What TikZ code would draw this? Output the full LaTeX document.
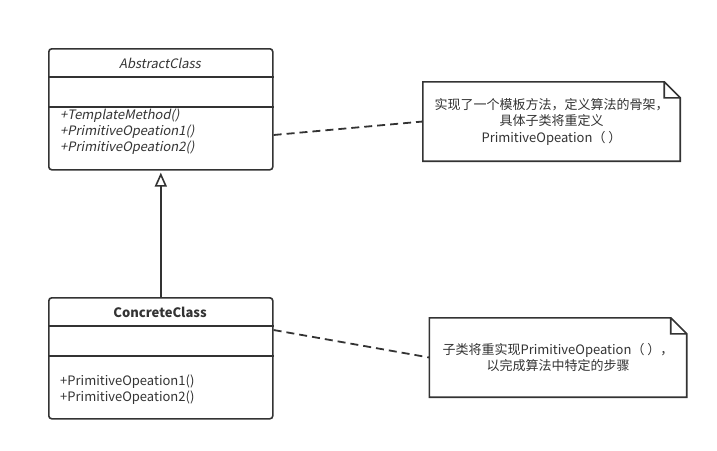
\documentclass[tikz,border=0pt]{standalone}
\usepackage{fontspec}
\setmainfont{Noto Sans CJK SC}[AutoFakeSlant=0.2]
\usetikzlibrary{positioning,arrows.meta}
\definecolor{ink}{HTML}{333333}

\begin{document}
\begin{tikzpicture}[x=1pt,y=-1pt,font=\fontsize{13}{16.5}\selectfont,text=ink,
  cls/.style={draw=ink,line width=1.6pt,rounded corners=3pt,minimum width=224pt,minimum height=121pt,inner sep=0pt,anchor=north west},
  sep/.style={draw=ink,line width=1.6pt},
  note/.style={minimum width=257pt,minimum height=79pt,inner sep=0pt,align=center},
  notebox/.style={draw=ink,line width=1.6pt},
  dashline/.style={draw=ink,line width=1.8pt,dash pattern=on 8pt off 5pt}]
\useasboundingbox (0,0) rectangle (717,450);
\node[cls] (ac) at (48,48) {};
\node[cls] (cc) at (48,297) {};
\foreach \c in {ac,cc}
  \draw[sep] ([yshift=-29pt]\c.north west) -- ([yshift=-29pt]\c.north east)
             ([yshift=-59pt]\c.north west) -- ([yshift=-59pt]\c.north east);
\node[font=\fontsize{13}{16}\selectfont\itshape] (ac-name) at (160,63) {AbstractClass};
\node[anchor=west,align=left,inner sep=0pt,font=\fontsize{13}{16}\selectfont\itshape] (ac-ops) at (60,132)
  {+TemplateMethod()\\+PrimitiveOpeation1()\\+PrimitiveOpeation2()};
\node[font=\fontsize{13}{16}\selectfont\bfseries] (cc-name) at (160,312) {ConcreteClass};
\node[anchor=west,align=left,inner sep=0pt,font=\fontsize{13}{16}\selectfont] (cc-ops) at (60,390)
  {+PrimitiveOpeation1()\\+PrimitiveOpeation2()};
% notes
\node[note] (n1) at (551.5,121.5) {实现了一个模板方法，定义算法的骨架，\\具体子类将重定义\\PrimitiveOpeation（\hspace{3pt}）};
\node[note] (n2) at (558,357.5) {子类将重实现PrimitiveOpeation（\hspace{3pt}），\\以完成算法中特定的步骤};
\foreach \n in {n1,n2}
  \draw[notebox] (\n.south west) -- (\n.north west) -- ([xshift=-16pt]\n.north east)
    -- ([yshift=-16pt]\n.north east) -- (\n.south east) -- cycle
    ([xshift=-16pt]\n.north east) -- ([xshift=-16pt,yshift=-16pt]\n.north east) -- ([yshift=-16pt]\n.north east);
% connectors
\draw[draw=ink,line width=1.6pt,-{Triangle[open,width=12pt,length=14pt,line width=1.6pt]},shorten >=2pt] (cc.north) -- (ac.south);
\draw[dashline] ([yshift=-87pt]ac.north east) -- (n1.west);
\draw[dashline] ([yshift=-33pt]cc.north east) -- (n2.west);
\end{tikzpicture}
\end{document}
